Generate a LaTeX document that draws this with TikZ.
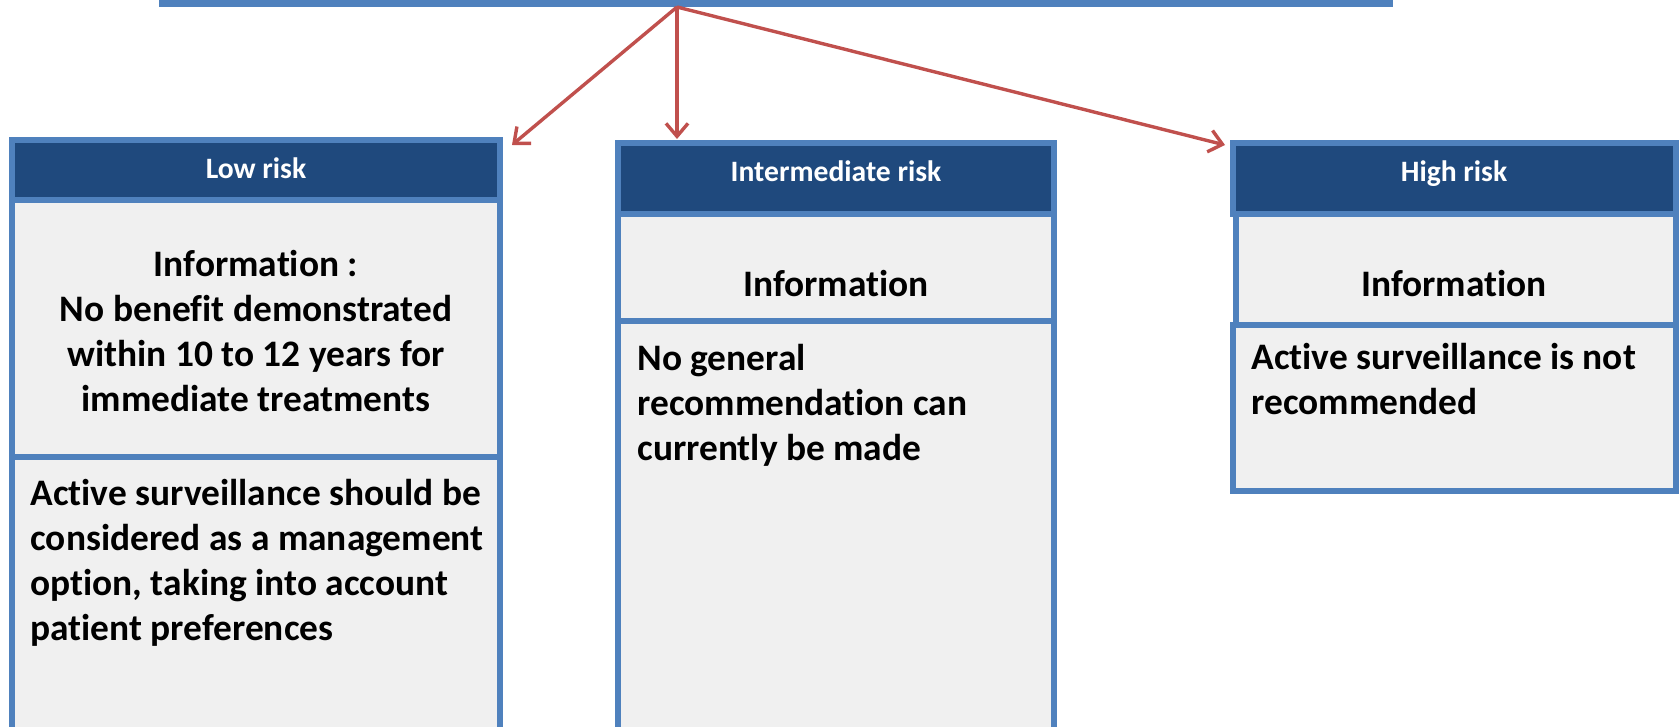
\documentclass[tikz,border=0pt]{standalone}
\usepackage{fontspec}
\setmainfont{Carlito}[Ligatures=NoCommon]
\usetikzlibrary{arrows.meta}
\definecolor{frameblue}{HTML}{4F81BD}
\definecolor{headblue}{HTML}{1F497D}
\definecolor{panelgrey}{HTML}{F0F0F0}
\definecolor{arrowred}{HTML}{C0504D}
\begin{document}
\begin{tikzpicture}[x=0.5pt,y=-0.5pt,
  panel/.style={draw=frameblue, line width=3pt, fill=panelgrey, outer sep=0pt,
    inner sep=0pt, anchor=north west},
  header/.style={panel, fill=headblue},
  headtext/.style={text=white, inner sep=0pt, anchor=base,
    font=\fontsize{14.8}{17}\selectfont\bfseries},
  % multi-line texts are placed by the baseline of their last line
  bodytext/.style={inner sep=0pt, align=left, anchor=base west,
    font=\fontsize{18.7}{22.4}\selectfont\bfseries},
  centretext/.style={bodytext, align=center, anchor=base},
  arr/.style={draw=arrowred, line width=1.7pt,
    -{Straight Barb[length=6.5pt,width=11pt,line width=1.7pt]}}]
\useasboundingbox (0,0) rectangle (1680,727);

% source box, only its lower edge is in view
\node[draw=frameblue, fill=white, line width=3.5pt, outer sep=0pt, anchor=south west,
  minimum width=613.5pt, minimum height=20pt] (src) at (162.5,3.5) {};
\coordinate (hub) at (677,7);

% low risk column
\node[panel, minimum width=244pt, minimum height=151.5pt] (lowrec) at (12,457) {};
\node[panel, minimum width=244pt, minimum height=128.5pt] (lowinfo) at (12,200) {};
\node[header, minimum width=244pt, minimum height=30pt] (lowhead) at (12,140) {};
\node[headtext] (lowlab) at (256,179) {Low risk};
\node[centretext] (lowinfotxt) at (256,411) {Information :\\No benefit demonstrated\\within 10 to 12 years for\\immediate treatments};
\node[bodytext] (lowrectxt) at (30,640) {Active surveillance should be\\considered as a management\\option, taking into account\\patient preferences};

% intermediate risk column
\node[panel, minimum width=218pt, minimum height=219.5pt] (midrec) at (618,321) {};
\node[panel, minimum width=218pt, minimum height=53.5pt] (midinfo) at (618,214) {};
\node[header, minimum width=218pt, minimum height=35.5pt] (midhead) at (618,143) {};
\node[headtext] (midlab) at (836,182) {Intermediate risk};
\node[centretext] (midinfotxt) at (836,296) {Information};
\node[bodytext] (midrectxt) at (637,460) {No general\\recommendation can\\currently be made};

% high risk column
\node[panel, minimum width=221.5pt, minimum height=83pt] (highrec) at (1233,325) {};
\node[panel, minimum width=220pt, minimum height=55.5pt] (highinfo) at (1236,214) {};
\node[header, minimum width=221.5pt, minimum height=35.5pt] (highhead) at (1233,143) {};
\node[headtext] (highlab) at (1454,182) {High risk};
\node[centretext] (highinfotxt) at (1454,296) {Information};
\node[bodytext] (highrectxt) at (1251,414) {Active surveillance is not\\recommended};

% branching arrows
\coordinate (lowtip) at (512,145);
\coordinate (midtip) at (677,139);
\coordinate (hightip) at (1225,145);
\draw[arr] (hub) -- (lowtip);
\draw[arr] (hub) -- (midtip);
\draw[arr] (hub) -- (hightip);
\end{tikzpicture}
\end{document}
